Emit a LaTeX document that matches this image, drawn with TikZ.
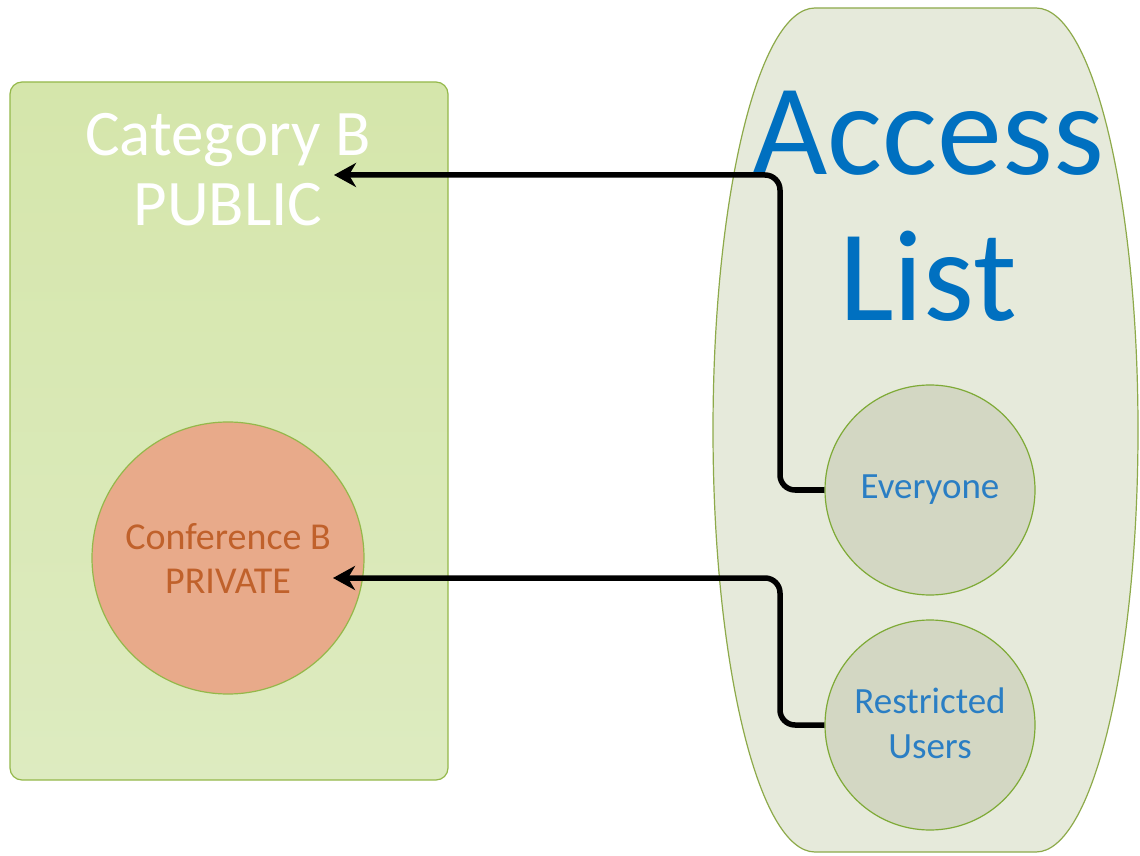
\documentclass[tikz,border=0pt]{standalone}
\usepackage{fontspec}
\setmainfont{Carlito}
\usepackage{xcolor}
\usepackage{tikz}
\usetikzlibrary{arrows.meta,calc,positioning}
\definecolor{CatFill}{HTML}{D5E6AB}
\definecolor{CatFillLow}{HTML}{DDEBC0}
\definecolor{CatEdge}{HTML}{94B84A}
\definecolor{ListFill}{HTML}{E6EADB}
\definecolor{ListEdge}{HTML}{8DAA4A}
\definecolor{UserFill}{HTML}{D3D7C3}
\definecolor{UserEdge}{HTML}{7EAA36}
\definecolor{ConfFill}{HTML}{E8AA8A}
\definecolor{ConfText}{HTML}{C0612B}
\definecolor{AccessBlue}{HTML}{0070C0}
\definecolor{UserBlue}{HTML}{2A7EC4}
\tikzset{
  categorypanel/.style={draw=CatEdge,top color=CatFill,bottom color=CatFillLow,line width=1.2pt,rounded corners=12pt},
  listpanel/.style={draw=ListEdge,fill=ListFill,line width=1.2pt},
  cattitle/.style={align=center,text=white,font=\fontsize{65}{70}\selectfont},
  listtitle/.style={align=center,text=AccessBlue,font=\fontsize{130}{146}\selectfont},
  confcircle/.style={circle,draw=CatEdge,fill=ConfFill,line width=1.2pt,minimum size=272pt,inner sep=0pt},
  conftext/.style={align=center,text=ConfText,font=\fontsize{38}{44}\selectfont},
  usercircle/.style={circle,draw=UserEdge,fill=UserFill,line width=1.2pt,minimum size=210pt,inner sep=0pt},
  usertext/.style={align=center,text=UserBlue,font=\fontsize{37}{45}\selectfont},
  accessarrow/.style={line width=5.5pt,black,rounded corners=15pt,-{Stealth[length=22pt,width=24pt,inset=7pt]}}
}
\begin{document}
\begin{tikzpicture}[x=1pt,y=1pt]
  \useasboundingbox (0,0) rectangle (1140,855);

  \draw[categorypanel] (10,75) rectangle (448,773);
  \node[cattitle] (pubtitle) at (228,685) {Category B\\PUBLIC};
  \node[confcircle] (conf) at (228,297) {};
  \node[conftext] (conftitle) at (conf.center) {Conference B\\PRIVATE};

  \draw[listpanel] (815,847) -- (1036,847)
    arc[start angle=90,end angle=0,x radius=102,y radius=422]
    arc[start angle=0,end angle=-90,x radius=102,y radius=422]
    -- (815,3)
    arc[start angle=270,end angle=180,x radius=102,y radius=422]
    arc[start angle=180,end angle=90,x radius=102,y radius=422] -- cycle;
  \node[listtitle] (acctitle) at (928,649) {Access\\List};
  \node[usercircle] (every) at (930,365) {};
  \node[usertext] at (every.center) {Everyone};
  \node[usercircle] (restr) at (930,130) {};
  \node[usertext] at ([yshift=2pt]restr.center) {Restricted\\Users};

  \coordinate (bendA) at (780,680);
  \coordinate (pubin) at (334,680);
  \coordinate (bendB) at (780,277);
  \coordinate (privin) at (333,277);
  \draw[accessarrow] (every.west) -| (bendA) -- (pubin);
  \draw[accessarrow] (restr.west) -| (bendB) -- (privin);
\end{tikzpicture}
\end{document}
